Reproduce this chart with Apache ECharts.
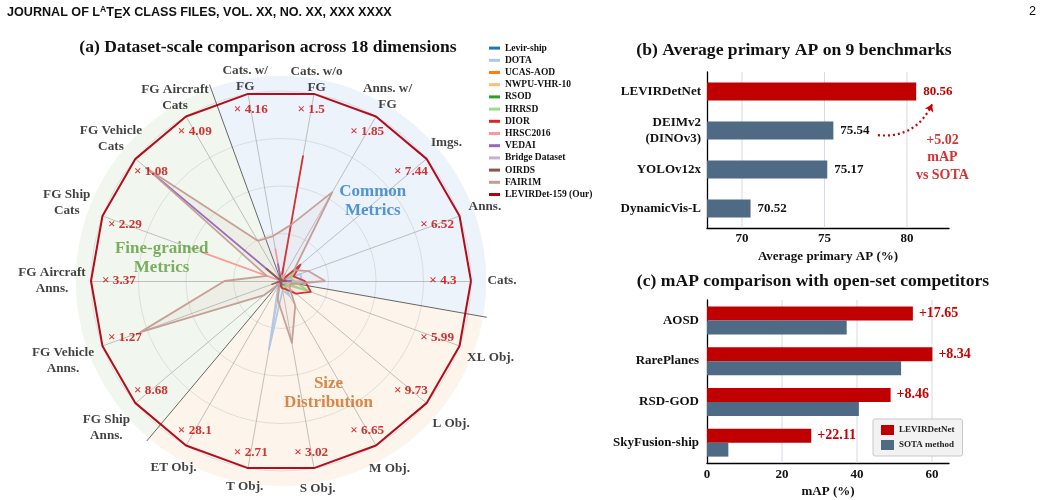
<!DOCTYPE html>
<html>
<head>
<meta charset="utf-8">
<script src="https://cdn.jsdelivr.net/npm/echarts@6.0.0/dist/echarts.min.js"></script>
<style>
  html, body { margin: 0; padding: 0; background: #fff; }
  #chart { width: 1045px; height: 500px; }
</style>
</head>
<body>
<div id="chart"></div>
<script>
const SERIF = '"Liberation Serif", "Times New Roman", serif';
const SANS = '"Liberation Sans", Arial, sans-serif';
const RED = '#c00000';
const SLATE = '#4f6a84';

// ---- (a) radar: 18 dimensions, values normalised to LEVIRDet-159 = 1 ----
const dimNames = ['Cats.', 'Anns.', 'Imgs.', 'Anns. w/\nFG', 'Cats. w/o\nFG', 'Cats. w/\nFG',
  'FG Aircraft\nCats', 'FG Vehicle\nCats', 'FG Ship\nCats', 'FG Aircraft\nAnns.', 'FG Vehicle\nAnns.',
  'FG Ship\nAnns.', 'ET Obj.', 'T Obj.', 'S Obj.', 'M Obj.', 'L Obj.', 'XL Obj.'];
const gainRatios = [4.3, 6.52, 7.44, 1.85, 1.5, 4.16, 4.09, 1.08, 2.29, 3.37, 1.27, 8.68, 28.1, 2.71, 3.02, 6.65, 9.73, 5.99];

const datasetNames = ['Levir-ship', 'DOTA', 'UCAS-AOD', 'NWPU-VHR-10', 'RSOD', 'HRRSD', 'DIOR',
  'HRSC2016', 'VEDAI', 'Bridge Dataset', 'OIRDS', 'FAIR1M', 'LEVIRDet-159 (Our)'];
const datasetColors = ['#1f77b4', '#aec7e8', '#ff7f0e', '#ffbb78', '#2ca02c', '#98df8a', '#d62728',
  '#ff9896', '#9467bd', '#c5b0d5', '#8c564b', '#c49c94', '#b00010'];

const levirShip = [0.006, 0.02, 0.05, 0, 0.03, 0, 0, 0, 0, 0, 0, 0, 0.01, 0.03, 0.02, 0.01, 0, 0];
const dota      = [0.11, 0.11, 0.02, 0, 0.05, 0, 0, 0, 0, 0, 0, 0, 0.03, 0.369, 0.05, 0.09, 0.03, 0.02];
const ucasAod   = [0.013, 0.01, 0.02, 0, 0.07, 0, 0, 0, 0, 0, 0, 0, 0, 0.01, 0.02, 0.02, 0, 0];
const nwpu      = [0.063, 0.01, 0.01, 0, 0.04, 0, 0, 0, 0, 0, 0, 0, 0, 0.01, 0.01, 0.02, 0.03, 0.02];
const rsod      = [0.025, 0.01, 0.01, 0, 0.02, 0, 0, 0, 0, 0, 0, 0, 0, 0.01, 0.01, 0.02, 0.03, 0.02];
const hrrsd     = [0.07, 0.05, 0.1, 0, 0.03, 0, 0, 0, 0, 0, 0, 0, 0, 0.01, 0.03, 0.06, 0.03, 0.15];
const dior      = [0.126, 0.07, 0.134, 0, 0.667, 0, 0, 0, 0, 0, 0, 0, 0.01, 0.02, 0.04, 0.05, 0.103, 0.167];
const hrsc2016  = [0.02, 0.01, 0.01, 0.04, 0, 0.17, 0, 0, 0.437, 0, 0, 0.03, 0, 0, 0.01, 0.01, 0.01, 0];
const vedai     = [0.057, 0.01, 0.005, 0, 0, 0.09, 0, 0.926, 0, 0, 0.02, 0, 0, 0.01, 0.01, 0, 0, 0];
const bridge    = [0.006, 0.005, 0.005, 0, 0.03, 0, 0, 0, 0, 0, 0, 0, 0, 0, 0.01, 0.01, 0.02, 0.03];
const oirds     = [0.03, 0.005, 0.003, 0.01, 0, 0.03, 0, 0.1, 0, 0, 0.05, 0, 0, 0.01, 0.02, 0, 0, 0];
const fair1m    = [0.233, 0.153, 0.09, 0.54, 0.3, 0.24, 0.244, 0.926, 0.08, 0.297, 0.787, 0.115, 0.02, 0.1, 0.331, 0.15, 0.06, 0.05];
const levirDet  = [1, 1, 1, 1, 1, 1, 1, 1, 1, 1, 1, 1, 1, 1, 1, 1, 1, 1];
const datasetValues = [levirShip, dota, ucasAod, nwpu, rsod, hrrsd, dior, hrsc2016, vedai, bridge, oirds, fair1m, levirDet];

// group regions (degrees, counter-clockwise from the "Cats." axis)
const groupNames = ['Common\nMetrics', 'Fine-grained\nMetrics', 'Size\nDistribution'];
const groupColors = ['#2a7cc7', '#5c9b3a', '#cf6a1e'];
const groupFills = ['#edf3fb', '#f1f7ee', '#fdf5ec'];
const groupStart = [-10, 110, 230];
const groupEnd = [110, 230, 350];

// ---- (b) average primary AP ----
const apMethods = ['LEVIRDetNet', 'DEIMv2\n(DINOv3)', 'YOLOv12x', 'DynamicVis-L'];
const apValues = [80.56, 75.54, 75.17, 70.52];
const apTicks = [70, 75, 80];

// ---- (c) open-set mAP ----
const openSets = ['AOSD', 'RarePlanes', 'RSD-GOD', 'SkyFusion-ship'];
const levirOpenSet = [54.9, 60.1, 48.96, 27.8];
const sotaOpenSet = [37.25, 51.76, 40.5, 5.69];
const mapTicks = [0, 20, 40, 60];

// layout helpers for the radar text (radius in px of the 190px radar)
const R = 190;
const nameRadiusPx = [221, 217, 216, 213, 205, 206, 212, 222, 228, 229, 232, 228, 215, 209, 211, 217, 222, 223];
const dimAngle = i => i * 20;

const chart = echarts.init(document.getElementById('chart'));

const radarSeriesData = datasetNames.map((n, i) => {
  const isOurs = i === datasetNames.length - 1;
  const item = {
    name: n,
    value: datasetValues[i],
    symbol: 'none',
    lineStyle: { color: datasetColors[i], width: isOurs ? 2 : 1.8, opacity: 0.95 },
    itemStyle: { color: datasetColors[i] }
  };
  if (!isOurs) item.areaStyle = { color: datasetColors[i], opacity: 0.08 };
  return item;
});

const boldSerif = (size, color) => ({ fontFamily: SERIF, fontWeight: 'bold', fontSize: size, color: color });
const hiddenAxis = { axisLine: { show: false }, axisTick: { show: false }, axisLabel: { show: false }, splitLine: { show: false } };

// vertical grid line drawn through a hidden continuous y axis (-0.5 .. 3.5)
const gridLineItem = (params, api) => {
  const p0 = api.coord([api.value(0), -0.5]);
  const p1 = api.coord([api.value(0), 3.5]);
  return { type: 'line', shape: { x1: p0[0], y1: p0[1], x2: p1[0], y2: p1[1] },
    style: { stroke: '#d5d9e3', lineWidth: 1 } };
};

const option = {
  animation: false,
  backgroundColor: '#fff',
  title: [
    {
      text: '{n|JOURNAL OF L}{a|A}{n|T}{e|E}{n|X CLASS FILES, VOL. XX, NO. XX, XXX XXXX}',
      left: 7, top: 5, padding: 0,
      textStyle: {
        rich: {
          n: { fontFamily: SANS, fontSize: 12.6, color: '#111', lineHeight: 16 },
          a: { fontFamily: SANS, fontSize: 8.5, color: '#111', lineHeight: 16, verticalAlign: 'top' },
          e: { fontFamily: SANS, fontSize: 12.6, color: '#111', lineHeight: 16, verticalAlign: 'bottom' }
        }
      }
    },
    { text: '2', right: 9, top: 5, padding: 0, textStyle: { fontFamily: SANS, fontSize: 12.6, fontWeight: 'normal', color: '#111' } },
    { text: '(a) Dataset-scale comparison across 18 dimensions', left: 268, top: 38, padding: 0, textAlign: 'center', textStyle: boldSerif(17.6, '#111') },
    { text: '(b) Average primary AP on 9 benchmarks', left: 794, top: 41, padding: 0, textAlign: 'center', textStyle: boldSerif(17.6, '#111') },
    { text: '(c) mAP comparison with open-set competitors', left: 813, top: 272, padding: 0, textAlign: 'center', textStyle: boldSerif(17.6, '#111') }
  ],
  legend: [
    {
      data: datasetNames,
      orient: 'vertical', left: 489, top: 43, padding: 0,
      icon: 'rect', itemWidth: 11, itemHeight: 3, itemGap: 2,
      textStyle: { fontFamily: SERIF, fontWeight: 'bold', fontSize: 9.5, color: '#111', lineHeight: 10.2 }
    },
    {
      data: ['LEVIRDetNet', 'SOTA method'],
      orient: 'vertical', left: 873, top: 419,
      backgroundColor: '#f2f2f2', borderColor: '#c8c8c8', borderWidth: 1, borderRadius: 2,
      padding: [6, 8, 6, 8], icon: 'rect', itemWidth: 13, itemHeight: 10, itemGap: 5,
      textStyle: { fontFamily: SERIF, fontWeight: 'bold', fontSize: 9, color: '#222' }
    }
  ],
  radar: {
    center: [281, 281], radius: R, startAngle: 0, shape: 'circle', splitNumber: 4,
    indicator: dimNames.map(n => ({ name: n, min: 0, max: 1 })),
    axisName: { show: false },
    axisLine: { lineStyle: { color: '#a6a6a6', width: 0.7 } },
    splitLine: { lineStyle: { color: '#d2d2d2', width: 0.7 } },
    splitArea: { show: false }
  },
  polar: { center: [281, 281], radius: R * 1.3 },
  angleAxis: Object.assign({ type: 'value', min: 0, max: 360, startAngle: 0, clockwise: false, show: false }, hiddenAxis),
  radiusAxis: Object.assign({ type: 'value', min: 0, max: 1.3, show: false }, hiddenAxis),
  grid: [
    { left: 707, width: 242, top: 72, height: 156 },
    { left: 707, width: 242, top: 300, height: 163 }
  ],
  xAxis: [
    {
      gridIndex: 0, type: 'value', min: 67.88, max: 82.55,
      axisLine: { show: true, onZero: false, lineStyle: { color: '#000', width: 1.3 } },
      axisTick: { show: false },
      axisLabel: Object.assign({ customValues: apTicks, margin: 4 }, boldSerif(13, '#111')),
      splitLine: { show: false },
      name: 'Average primary AP (%)', nameLocation: 'middle', nameGap: 22,
      nameTextStyle: boldSerif(13, '#111')
    },
    {
      gridIndex: 1, type: 'value', min: 0, max: 64.53,
      axisLine: { show: true, onZero: false, lineStyle: { color: '#000', width: 1.3 } },
      axisTick: { show: false },
      axisLabel: Object.assign({ customValues: mapTicks, margin: 5 }, boldSerif(13, '#111')),
      splitLine: { show: false },
      name: 'mAP (%)', nameLocation: 'middle', nameGap: 22,
      nameTextStyle: boldSerif(13, '#111')
    }
  ],
  yAxis: [
    {
      gridIndex: 0, type: 'category', data: apMethods, inverse: true,
      axisLine: { show: true, onZero: false, lineStyle: { color: '#000', width: 1.3 } },
      axisTick: { show: false },
      axisLabel: Object.assign({ margin: 6, lineHeight: 16 }, boldSerif(13, '#111'))
    },
    {
      gridIndex: 1, type: 'category', data: openSets, inverse: true,
      axisLine: { show: true, onZero: false, lineStyle: { color: '#000', width: 1.3 } },
      axisTick: { show: false },
      axisLabel: Object.assign({ margin: 8 }, boldSerif(13, '#111'))
    },
    // hidden continuous twins of the category axes (band centres at 0..3)
    Object.assign({ gridIndex: 0, type: 'value', min: -0.5, max: 3.5, inverse: true, show: false }, hiddenAxis),
    Object.assign({ gridIndex: 1, type: 'value', min: -0.5, max: 3.5, inverse: true, show: false }, hiddenAxis)
  ],
  series: [
    // background sectors of the radar
    {
      type: 'custom', coordinateSystem: 'polar', z: -2, silent: true,
      data: groupStart.map((a, i) => [1.08, a, groupEnd[i], i]),
      renderItem: (params, api) => {
        const c = api.coord([0, 0]);
        const p = api.coord([api.value(0), 0]);
        const r = Math.hypot(p[0] - c[0], p[1] - c[1]);
        return {
          type: 'sector',
          shape: { cx: c[0], cy: c[1], r0: 0, r: r,
            startAngle: -api.value(2) * Math.PI / 180, endAngle: -api.value(1) * Math.PI / 180, clockwise: true },
          style: { fill: groupFills[api.value(3)] }
        };
      }
    },
    // separators between groups
    {
      type: 'custom', coordinateSystem: 'polar', z: 1, silent: true,
      data: groupStart.map(a => [1.1, a]),
      renderItem: (params, api) => {
        const c = api.coord([0, 0]);
        const p = api.coord([api.value(0), api.value(1)]);
        return { type: 'line', shape: { x1: c[0], y1: c[1], x2: p[0], y2: p[1] },
          style: { stroke: '#555', lineWidth: 0.9 } };
      }
    },
    {
      type: 'radar', z: 3,
      data: radarSeriesData
    },
    // axis names
    {
      type: 'scatter', coordinateSystem: 'polar', z: 5, silent: true,
      symbolSize: 1, itemStyle: { color: 'rgba(0,0,0,0)' },
      data: dimNames.map((n, i) => ({ value: [nameRadiusPx[i] / R, dimAngle(i)], name: n })),
      label: Object.assign({ show: true, position: 'inside', formatter: p => p.name, lineHeight: 16, align: 'center' }, boldSerif(13.2, '#111'))
    },
    // gain ratios
    {
      type: 'scatter', coordinateSystem: 'polar', z: 5, silent: true,
      symbolSize: 1, itemStyle: { color: 'rgba(0,0,0,0)' },
      data: gainRatios.map((g, i) => ({
        value: [(162 + 12 * Math.abs(Math.sin(dimAngle(i) * Math.PI / 180))) / R, dimAngle(i)],
        name: '× ' + g
      })),
      label: Object.assign({ show: true, position: 'inside', formatter: p => p.name }, boldSerif(13.2, '#c80000'))
    },
    // group names
    {
      type: 'scatter', coordinateSystem: 'polar', z: 5, silent: true,
      symbolSize: 1, itemStyle: { color: 'rgba(0,0,0,0)' },
      data: groupNames.map((n, i) => ({
        value: [0.64, [41, 169, 293][i]], name: n,
        label: { color: groupColors[i] }
      })),
      label: { show: true, position: 'inside', formatter: p => p.name, fontFamily: SERIF, fontWeight: 'bold', fontSize: 17, lineHeight: 19 }
    },
    // (b) grid lines
    {
      type: 'custom', xAxisIndex: 0, yAxisIndex: 2, z: 1, silent: true,
      data: apTicks.map(v => [v]), renderItem: gridLineItem
    },
    {
      type: 'bar', name: 'avgAP', xAxisIndex: 0, yAxisIndex: 0, z: 3, barWidth: 18,
      data: apValues.map((v, i) => ({
        value: v,
        itemStyle: { color: i === 0 ? RED : SLATE },
        label: { color: i === 0 ? RED : '#111' }
      })),
      label: Object.assign({ show: true, position: 'right', distance: 7, formatter: p => p.value.toFixed(2) }, boldSerif(13, '#111'))
    },
    // dotted arrow DEIMv2 -> LEVIRDetNet
    {
      type: 'lines', coordinateSystem: 'cartesian2d', xAxisIndex: 0, yAxisIndex: 2, z: 4, silent: true,
      symbol: ['none', 'arrow'], symbolSize: 7,
      lineStyle: { color: '#c80000', width: 2.2, type: [2, 3], curveness: -0.35, opacity: 1 },
      data: [{ coords: [[78.24, 1.12], [81.52, 0.33]] }]
    },
    {
      type: 'scatter', xAxisIndex: 0, yAxisIndex: 2, z: 4, silent: true,
      symbolSize: 1, itemStyle: { color: 'rgba(0,0,0,0)' },
      data: [{ value: [82.15, 1.7], name: '+' + (apValues[0] - apValues[1]).toFixed(2) + '\nmAP\nvs SOTA' }],
      label: Object.assign({ show: true, position: 'inside', formatter: p => p.name, lineHeight: 17.5 }, boldSerif(14, '#c80000'))
    },
    // (c) grid lines
    {
      type: 'custom', xAxisIndex: 1, yAxisIndex: 3, z: 1, silent: true,
      data: mapTicks.slice(1).map(v => [v]), renderItem: gridLineItem
    },
    {
      type: 'bar', name: 'LEVIRDetNet', xAxisIndex: 1, yAxisIndex: 1, z: 3,
      barWidth: 14, barGap: '0%', itemStyle: { color: RED },
      data: levirOpenSet,
      label: Object.assign({ show: true, position: 'right', distance: 6,
        formatter: p => '+' + (levirOpenSet[p.dataIndex] - sotaOpenSet[p.dataIndex]).toFixed(2) }, boldSerif(14, '#c80000'))
    },
    {
      type: 'bar', name: 'SOTA method', xAxisIndex: 1, yAxisIndex: 1, z: 3,
      barWidth: 14, barGap: '0%', itemStyle: { color: SLATE },
      data: sotaOpenSet
    }
  ]
};

chart.setOption(option);
</script>
</body>
</html>
